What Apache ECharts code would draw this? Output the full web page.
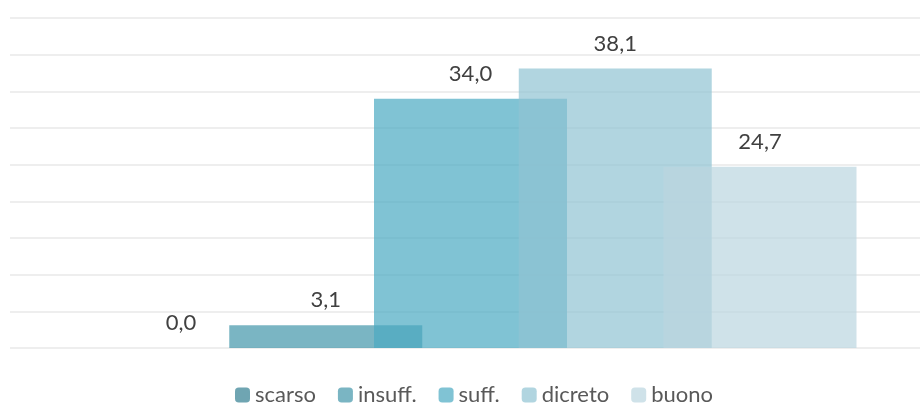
<html lang="it">
<head>
    <meta charset="UTF-8">
    <title>Valutazioni</title>
    <style>
        body { margin: 0; background: #fff; }
        #echart { width: 920px; height: 408px; }
    </style>
</head>
<body>
<div id="echart"></div>
<script src="https://cdn.jsdelivr.net/npm/echarts@6/dist/echarts.min.js"></script>
<script>
    // dati
    const categories = ['']
    const seriesNames = ['scarso', 'insuff.', 'suff.', 'dicreto', 'buono']
    const values = [0.0, 3.1, 34.0, 38.1, 24.7]
    const colors = [
        'rgba(52,128,146,0.71)',
        'rgba(68,151,170,0.71)',
        'rgba(76,170,194,0.71)',
        'rgba(145,196,211,0.71)',
        'rgba(187,214,224,0.71)'
    ]
    const yMax = 45
    const yStep = 5

    const echart = echarts.init(document.getElementById('echart'))

    const fmt = v => v.toFixed(1).replace('.', ',')

    echart.setOption({
        animation: false,
        textStyle: { fontFamily: 'Lato' },
        legend: {
            data: seriesNames,
            top: 379,
            left: 230,
            itemWidth: 15,
            itemHeight: 15,
            itemGap: 22,
            textStyle: { fontSize: 22, color: '#595959', fontFamily: 'Lato' }
        },
        // grid 0 solo per le linee di griglia, grid 1 per le barre
        grid: [
            { left: 10, right: 0, top: 18, bottom: 60 },
            { left: 21, right: 0, top: 18, bottom: 60 }
        ],
        xAxis: [
            { type: 'category', gridIndex: 0, data: categories, show: false },
            { type: 'category', gridIndex: 1, data: categories, show: false }
        ],
        yAxis: [
            {
                type: 'value', gridIndex: 0, min: 0, max: yMax, interval: yStep,
                axisLabel: { show: false }, axisLine: { show: false }, axisTick: { show: false },
                splitLine: { lineStyle: { color: '#eeeeee', width: 2 } }
            },
            {
                type: 'value', gridIndex: 1, min: 0, max: yMax, interval: yStep,
                show: false, splitLine: { show: false }
            }
        ],
        series: seriesNames.map((name, i) => ({
            type: 'bar',
            name: name,
            xAxisIndex: 1,
            yAxisIndex: 1,
            data: [values[i]],
            barWidth: 193,
            barGap: '-25%',
            itemStyle: { color: colors[i] },
            label: {
                show: true,
                position: 'top',
                distance: 14,
                fontSize: 22,
                color: '#404040',
                fontFamily: 'Lato',
                formatter: p => fmt(p.value)
            }
        }))
    })
</script>
</body>
</html>
